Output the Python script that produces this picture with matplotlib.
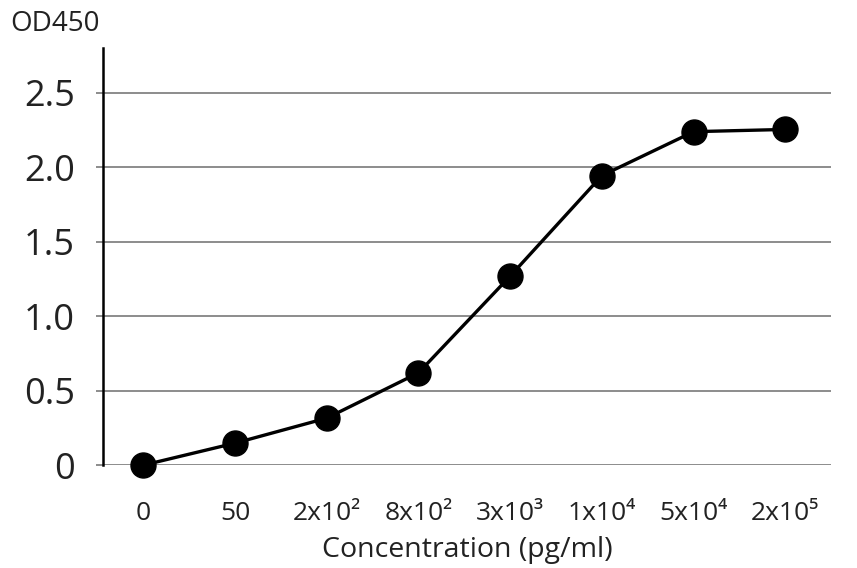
import matplotlib
matplotlib.use("Agg")
import matplotlib.pyplot as plt
import numpy as np

plt.rcParams['font.family'] = ['Open Sans', 'DejaVu Sans']

# concentration categories and measured OD450
conc_labels = ['0', '50', '2x10²', '8x10²', '3x10³', '1x10⁴', '5x10⁴', '2x10⁵']
od450 = [0.0, 0.148, 0.316, 0.62, 1.27, 1.945, 2.24, 2.255]
y_ticks = [0, 0.5, 1.0, 1.5, 2.0, 2.5]
y_tick_labels = ['0', '0.5', '1.0', '1.5', '2.0', '2.5']

fig = plt.figure(figsize=(8.57, 5.68), dpi=100)
ax = fig.add_axes([0.120, 0.181, 0.850, 0.734])

x = np.arange(len(conc_labels))
ax.plot(x, od450, color='black', lw=2.4, marker='o', ms=18,
        markerfacecolor='black', markeredgecolor='black', zorder=3, clip_on=False)

ax.set_xlim(-0.44, 7.5)
ax.set_ylim(0, 2.8)

ax.set_yticks(y_ticks)
ax.set_yticklabels(y_tick_labels, fontsize=26, color='#222222')
ax.set_xticks(x)
ax.set_xticklabels(conc_labels, fontsize=19, color='#222222')

ax.grid(axis='y', color='#8c8c8c', lw=1.4)
ax.set_axisbelow(True)
ax.tick_params(axis='y', length=5, width=1.4, color='#8c8c8c', pad=15)
ax.tick_params(axis='x', length=0, pad=26)

for s in ['top', 'right', 'bottom']:
    ax.spines[s].set_visible(False)
ax.spines['left'].set_linewidth(1.8)
ax.spines['left'].set_color('black')

ax.set_xlabel('Concentration (pg/ml)', fontsize=20.5, color='#222222', labelpad=7)
fig.text(0.012, 0.958, 'OD450', fontsize=20, color='#222222', va='center', ha='left')

fig.savefig('out.png', dpi=100)
